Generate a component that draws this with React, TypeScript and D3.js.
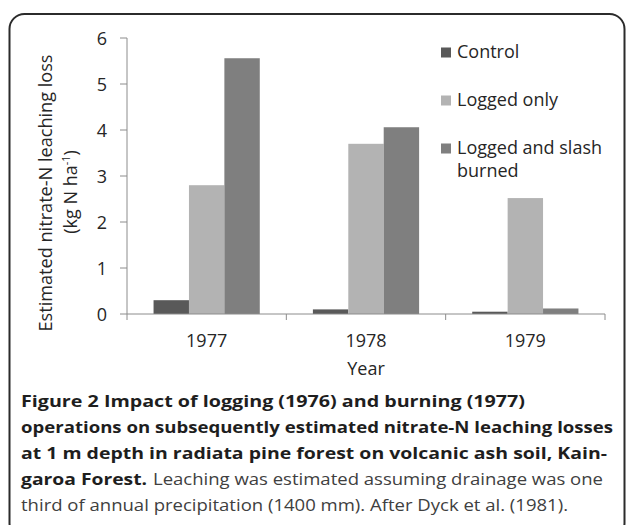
import React from "react";
import * as d3 from "d3";

const years = ["1977", "1978", "1979"];
const seriesNames = ["Control", "Logged only", "Logged and slash burned"];
const control = [0.3, 0.1, 0.05];
const loggedOnly = [2.8, 3.7, 2.52];
const loggedBurned = [5.56, 4.06, 0.12];
const yTicks = [0, 1, 2, 3, 4, 5, 6];
const colors = ["#595959", "#b3b3b3", "#7f7f7f"];

const captionBold = [
  "Figure 2 Impact of logging (1976) and burning (1977)",
  "operations on subsequently estimated nitrate-N leaching losses",
  "at 1 m depth in radiata pine forest on volcanic ash soil, Kain-",
];
const captionLine4Bold = "garoa Forest.";
const captionLine4Reg = "Leaching was estimated assuming drainage was one";
const captionLine5 = "third of annual precipitation (1400 mm). After Dyck et al. (1981).";

export default function App() {
  const W = 627;
  const H = 525;
  const left = 127;
  const right = 605;
  const top = 38;
  const bottom = 314;

  const x0 = d3.scaleBand<string>().domain(years).range([left, right]).padding(0);
  const bw = x0.bandwidth();
  const x1 = d3
    .scaleBand<string>()
    .domain(seriesNames)
    .range([bw / 6, (5 * bw) / 6])
    .padding(0);
  const y = d3.scaleLinear().domain([0, 6]).range([bottom, top]);

  const values = [control, loggedOnly, loggedBurned];
  const font = "'Open Sans', sans-serif";
  const axisColor = "#8c8c8c";
  const textColor = "#262626";

  const boundaries = [...years.map((yr) => x0(yr) as number), right];

  const legendY = [58, 106, 154];
  const capY = (i: number) => 407 + i * 26;
  const capSize = 16;

  return (
    <svg
      width={W}
      height={H}
      style={{ position: "absolute", left: 0, top: 0, background: "#fff" }}
    >
      <rect x={0} y={0} width={W} height={H} fill="#fff" />
      <rect
        x={9.5}
        y={14}
        width={615}
        height={524}
        rx={15}
        ry={15}
        fill="none"
        stroke="#2b2b2b"
        strokeWidth={2}
      />

      {/* bars */}
      {values.map((vals, si) =>
        vals.map((v, i) => (
          <rect
            key={`${si}-${i}`}
            x={(x0(years[i]) as number) + (x1(seriesNames[si]) as number)}
            y={y(v)}
            width={x1.bandwidth()}
            height={bottom - y(v)}
            fill={colors[si]}
          />
        ))
      )}

      {/* y axis */}
      <line x1={left} x2={left} y1={top} y2={bottom} stroke={axisColor} strokeWidth={1} />
      {yTicks.map((t) => (
        <g key={t}>
          <line x1={left - 7} x2={left} y1={y(t)} y2={y(t)} stroke={axisColor} strokeWidth={1} />
          <text
            x={107}
            y={y(t) + 6.5}
            textAnchor="end"
            fontFamily={font}
            fontSize={18}
            fill={textColor}
          >
            {t}
          </text>
        </g>
      ))}

      {/* x axis */}
      <line x1={left} x2={right} y1={bottom} y2={bottom} stroke={axisColor} strokeWidth={1} />
      {boundaries.map((b, i) => (
        <line key={i} x1={b} x2={b} y1={bottom} y2={bottom + 6} stroke={axisColor} strokeWidth={1} />
      ))}
      {years.map((yr) => (
        <text
          key={yr}
          x={(x0(yr) as number) + bw / 2}
          y={347}
          textAnchor="middle"
          fontFamily={font}
          fontSize={18}
          fill={textColor}
        >
          {yr}
        </text>
      ))}
      <text x={366} y={375} textAnchor="middle" fontFamily={font} fontSize={18} fill={textColor}>
        Year
      </text>

      {/* y title */}
      <text
        transform="translate(52,193) rotate(-90)"
        textAnchor="middle"
        fontFamily={font}
        fontSize={18}
        fill={textColor}
        textLength={277}
        lengthAdjust="spacingAndGlyphs"
      >
        Estimated nitrate-N leaching loss
      </text>
      <text
        transform="translate(77,192) rotate(-90)"
        textAnchor="middle"
        fontFamily={font}
        fontSize={18}
        fill={textColor}
      >
        (kg N ha
        <tspan fontSize={11} dy={-7}>
          -1
        </tspan>
        <tspan dy={7}>)</tspan>
      </text>

      {/* legend */}
      {seriesNames.map((s, i) => (
        <g key={s}>
          <rect x={441} y={legendY[i] - 10.5} width={10} height={10} fill={colors[i]} />
          {i < 2 ? (
            <text x={457} y={legendY[i]} fontFamily={font} fontSize={18} fill={textColor}>
              {s}
            </text>
          ) : (
            <text fontFamily={font} fontSize={18} fill={textColor}>
              <tspan x={457} y={legendY[i]}>Logged and slash</tspan>
              <tspan x={457} y={legendY[i] + 23}>burned</tspan>
            </text>
          )}
        </g>
      ))}

      {/* caption */}
      {captionBold.map((line, i) => (
        <text
          key={i}
          x={21}
          y={capY(i)}
          fontFamily={font}
          fontWeight={700}
          fontSize={capSize}
          fill="#1e1e1e"
          textLength={[504, 592, 586][i]}
          lengthAdjust="spacingAndGlyphs"
        >
          {line}
        </text>
      ))}
      <text
        x={21}
        y={capY(3)}
        fontFamily={font}
        fontWeight={700}
        fontSize={capSize}
        fill="#1e1e1e"
        textLength={126}
        lengthAdjust="spacingAndGlyphs"
      >
        {captionLine4Bold}
      </text>
      <text
        x={153}
        y={capY(3)}
        fontFamily={font}
        fontSize={capSize}
        fill="#404040"
        textLength={450}
        lengthAdjust="spacingAndGlyphs"
      >
        {captionLine4Reg}
      </text>
      <text
        x={21}
        y={capY(4)}
        fontFamily={font}
        fontSize={capSize}
        fill="#404040"
        textLength={547}
        lengthAdjust="spacingAndGlyphs"
      >
        {captionLine5}
      </text>
    </svg>
  );
}
